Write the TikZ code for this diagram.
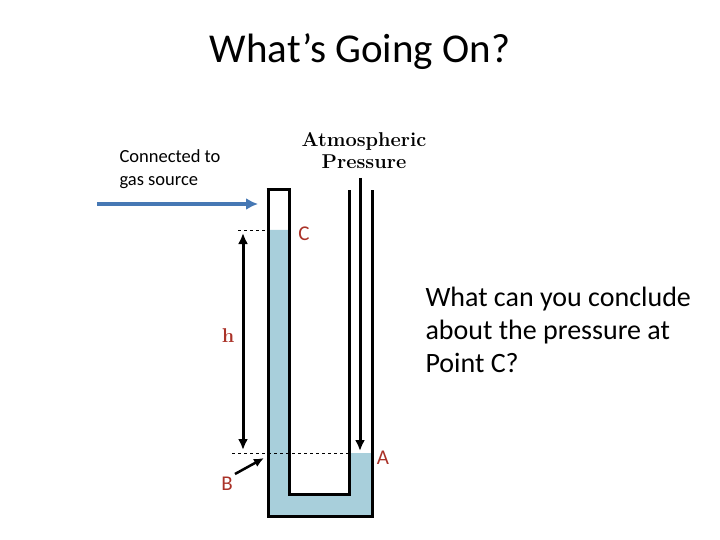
\documentclass[tikz,border=0pt]{standalone}
\usepackage{fontspec}
\setmainfont{Carlito}
\newfontfamily\lmr{Latin Modern Roman}
\usetikzlibrary{arrows.meta}
\definecolor{liq}{RGB}{168,207,219}
\definecolor{redt}{RGB}{170,50,40}
\definecolor{blu}{RGB}{70,120,180}
\begin{document}
\begin{tikzpicture}[x=1pt,y=-1pt,
  wall/.style={line width=3pt,black},
  lbl/.style={text=redt,font=\fontsize{21}{21}\selectfont},
  serif/.style={font=\lmr\bfseries\fontsize{20}{22}\selectfont},
  dim/.style={line width=3pt,-{Latex[length=11pt,width=10pt]}}]
\useasboundingbox (0,0) rectangle (720,540);
\node (title) at (360,52) {\fontsize{41}{41}\selectfont What’s Going On?};
\fill[liq] (268,230) -- (289,230) -- (289,494) -- (349,494) -- (349,453) -- (372,453) -- (372,516) -- (268,516) -- cycle;
\draw[wall] (266.5,190) -- (290.5,190);
\draw[wall] (268,190) -- (268,516) -- (372,516) -- (372,190);
\draw[wall] (289,190) -- (289,494) -- (349,494) -- (349,190);
\draw[dashed,thin] (238,230) -- (268,230);
\draw[dashed,thin] (232,453) -- (349,453);
\coordinate (ht) at (243,233); \coordinate (hb) at (243,450);
\draw[dim,{Latex[length=11pt,width=10pt]}-{Latex[length=11pt,width=10pt]}] (ht) -- (hb);
\coordinate (at) at (360,178); \coordinate (ab) at (360,451);
\draw[dim] (at) -- (ab);
\coordinate (bs) at (235,474); \coordinate (be) at (264,458);
\draw[line width=2.5pt,-{Latex[length=10pt,width=9pt]}] (bs) -- (be);
\coordinate (gs) at (97,204); \coordinate (ge) at (258,204);
\draw[blu,line width=3.5pt,-{Latex[length=12pt,width=12pt]}] (gs) -- (ge);
\node[lbl] (C) at (304,234) {C};
\node[lbl] (A) at (383,458) {A};
\node[lbl] (B) at (227,484) {B};
\node[text=redt,serif] (h) at (228,336) {h};
\node[serif,align=center] (atm) at (364,151) {Atmospheric\\Pressure};
\node[align=left,anchor=west,font=\fontsize{18.5}{23}\selectfont] (gas) at (116,169) {Connected to\\gas source};
\node[align=left,anchor=west,font=\fontsize{28}{33}\selectfont] (q) at (422,330) {What can you conclude\\about the pressure at\\Point C?};
\end{tikzpicture}
\end{document}
